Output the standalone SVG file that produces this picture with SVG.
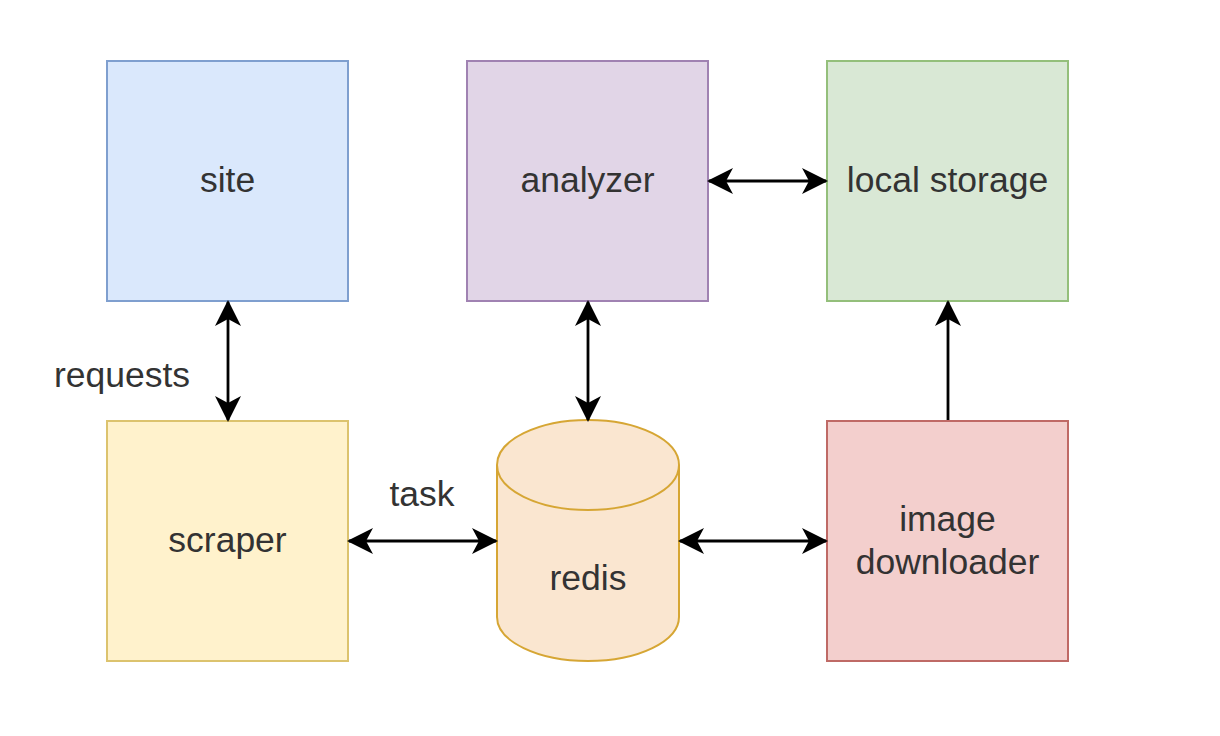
<svg xmlns="http://www.w3.org/2000/svg" width="1220" height="736" viewBox="0 0 1220 736">
  <style>
    .box { stroke-width: 2; }
    .lbl { font-family: "Liberation Sans", Arial, Helvetica, sans-serif; font-size: 35.5px; fill: #333333; text-anchor: middle; dominant-baseline: central; }
    .edge { fill: none; stroke: #000000; stroke-width: 2.8; }
  </style>
  <defs>
    <marker id="ah" viewBox="0 0 26 26" refX="24" refY="13" markerWidth="26" markerHeight="26" markerUnits="userSpaceOnUse" orient="auto-start-reverse">
      <path d="M0,0 L26,13 L0,26 L7,13 Z" fill="#000000"/>
    </marker>
  </defs>
  <rect width="1220" height="736" fill="#ffffff"/>

  <g id="site">
    <rect class="box" x="107" y="61" width="241" height="240" fill="#dae8fc" stroke="#7f9fcf"/>
    <text class="lbl" x="227.5" y="180">site</text>
  </g>
  <g id="analyzer">
    <rect class="box" x="467" y="61" width="241" height="240" fill="#e1d5e7" stroke="#a082b2"/>
    <text class="lbl" x="587.5" y="180">analyzer</text>
  </g>
  <g id="local-storage">
    <rect class="box" x="827" y="61" width="241" height="240" fill="#d9e8d5" stroke="#94bf7b"/>
    <text class="lbl" x="947.5" y="180">local storage</text>
  </g>
  <g id="scraper">
    <rect class="box" x="107" y="421" width="241" height="240" fill="#fff2cc" stroke="#dcc36e"/>
    <text class="lbl" x="227.5" y="540">scraper</text>
  </g>
  <g id="redis">
    <path class="box" d="M497,465 A91,45 0 0 1 679,465 L679,617 A91,44 0 0 1 497,617 Z" fill="#fae6d0" stroke="#d6a634"/>
    <path class="box" d="M497,465 A91,45 0 0 0 679,465" fill="none" stroke="#d6a634"/>
    <text class="lbl" x="588" y="578">redis</text>
  </g>
  <g id="image-downloader">
    <rect class="box" x="827" y="421" width="241" height="240" fill="#f3cfcd" stroke="#bf6a66"/>
    <text class="lbl" x="947.5" y="519">image</text>
    <text class="lbl" x="947.5" y="562">downloader</text>
  </g>

  <g id="connectors">
    <line class="edge" x1="228" y1="302" x2="228" y2="420" marker-start="url(#ah)" marker-end="url(#ah)"/>
    <line class="edge" x1="588" y1="302" x2="588" y2="420" marker-start="url(#ah)" marker-end="url(#ah)"/>
    <line class="edge" x1="709" y1="181" x2="826" y2="181" marker-start="url(#ah)" marker-end="url(#ah)"/>
    <line class="edge" x1="948" y1="420" x2="948" y2="302" marker-end="url(#ah)"/>
    <line class="edge" x1="349" y1="541" x2="496" y2="541" marker-start="url(#ah)" marker-end="url(#ah)"/>
    <line class="edge" x1="680" y1="541" x2="826" y2="541" marker-start="url(#ah)" marker-end="url(#ah)"/>
    <text class="lbl" x="122" y="375">requests</text>
    <text class="lbl" x="422" y="494">task</text>
  </g>
</svg>
